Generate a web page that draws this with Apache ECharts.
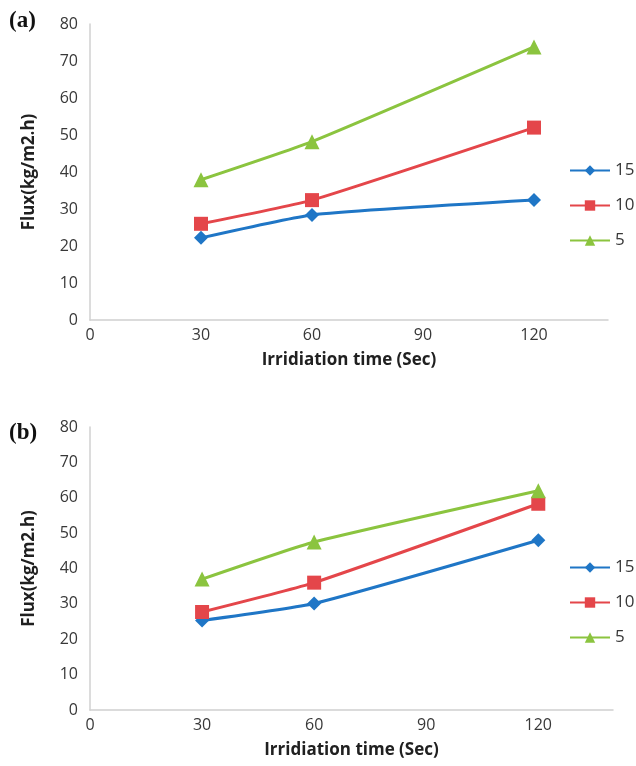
<!DOCTYPE html>
<html>
<head>
<meta charset="utf-8">
<script src="https://cdn.jsdelivr.net/npm/echarts@6/dist/echarts.min.js"></script>
<style>
  html, body { margin: 0; padding: 0; background: #fff; }
  #chart { width: 636px; height: 766px; }
</style>
</head>
<body>
<div id="chart"></div>
<script>
// irradiation time (s) and flux values
const times = [30, 60, 120];
const seriesNames = ['15', '10', '5'];

const fluxA15 = [22.2, 28.4, 32.4];
const fluxA10 = [26.0, 32.4, 52.0];
const fluxA5 = [37.9, 48.2, 73.8];

const fluxB15 = [25.3, 30.1, 48.0];
const fluxB10 = [27.7, 36.0, 58.3];
const fluxB5 = [37.0, 47.5, 62.0];

const xTicks = [0, 30, 60, 90, 120];
const yTicks = [0, 10, 20, 30, 40, 50, 60, 70, 80];

const colors = ['#1f76c6', '#e4464a', '#8bc43f'];
const symbols = ['diamond', 'rect', 'triangle'];
const symbolSizes = [14, 14, 15];

const labelFont = { fontFamily: 'Open Sans', fontSize: 16, color: '#383838' };
const nameFont = { fontFamily: 'Open Sans', fontSize: 17, fontWeight: 'bold', color: '#202020' };

function makeX(gridIndex) {
  return {
    type: 'value', gridIndex, min: xTicks[0], max: 140, interval: 30,
    name: 'Irridiation time (Sec)', nameLocation: 'middle', nameGap: 32,
    nameTextStyle: nameFont,
    axisLine: { show: true, lineStyle: { color: '#d0d0d0', width: 1.5 } },
    axisTick: { show: false },
    splitLine: { show: false },
    axisLabel: { ...labelFont, margin: 7, showMaxLabel: false }
  };
}

function makeY(gridIndex) {
  return {
    type: 'value', gridIndex, min: yTicks[0], max: yTicks[yTicks.length - 1], interval: 10,
    name: 'Flux(kg/m2.h)', nameLocation: 'middle', nameGap: 52,
    nameTextStyle: nameFont,
    axisLine: { show: true, lineStyle: { color: '#d0d0d0', width: 1.5 } },
    axisTick: { show: false },
    splitLine: { show: false },
    axisLabel: { ...labelFont, margin: 12 }
  };
}

function makeSeries(idx, values, gridIndex) {
  return {
    type: 'line',
    name: seriesNames[idx],
    xAxisIndex: gridIndex, yAxisIndex: gridIndex,
    data: times.map((t, i) => [t, values[i]]),
    symbol: symbols[idx], symbolSize: symbolSizes[idx],
    smooth: 0.15,
    lineStyle: { color: colors[idx], width: 3 },
    itemStyle: { color: colors[idx] },
    z: 3 + idx
  };
}

function makeLegend(top) {
  return {
    orient: 'vertical', left: 564, top,
    itemWidth: 40, itemHeight: 13, itemGap: 18,
    textStyle: { ...labelFont, fontSize: 17 },
    data: seriesNames.map(n => ({ name: n }))
  };
}

const chart = echarts.init(document.getElementById('chart'));
chart.setOption({
  animation: false,
  color: colors,
  grid: [
    { left: 90, top: 24, right: 28, bottom: 446 },
    { left: 90, top: 427, right: 23, bottom: 56 }
  ],
  xAxis: [makeX(0), makeX(1)],
  yAxis: [makeY(0), makeY(1)],
  legend: [makeLegend(157), makeLegend(554)],
  graphic: [
    { type: 'text', left: 9, top: 10, style: { text: '(a)', font: 'bold 23px "Liberation Serif"', fill: '#111' } },
    { type: 'text', left: 9, top: 422, style: { text: '(b)', font: 'bold 23px "Liberation Serif"', fill: '#111' } }
  ],
  series: [
    makeSeries(0, fluxA15, 0),
    makeSeries(1, fluxA10, 0),
    makeSeries(2, fluxA5, 0),
    makeSeries(0, fluxB15, 1),
    makeSeries(1, fluxB10, 1),
    makeSeries(2, fluxB5, 1)
  ]
});
</script>
</body>
</html>
